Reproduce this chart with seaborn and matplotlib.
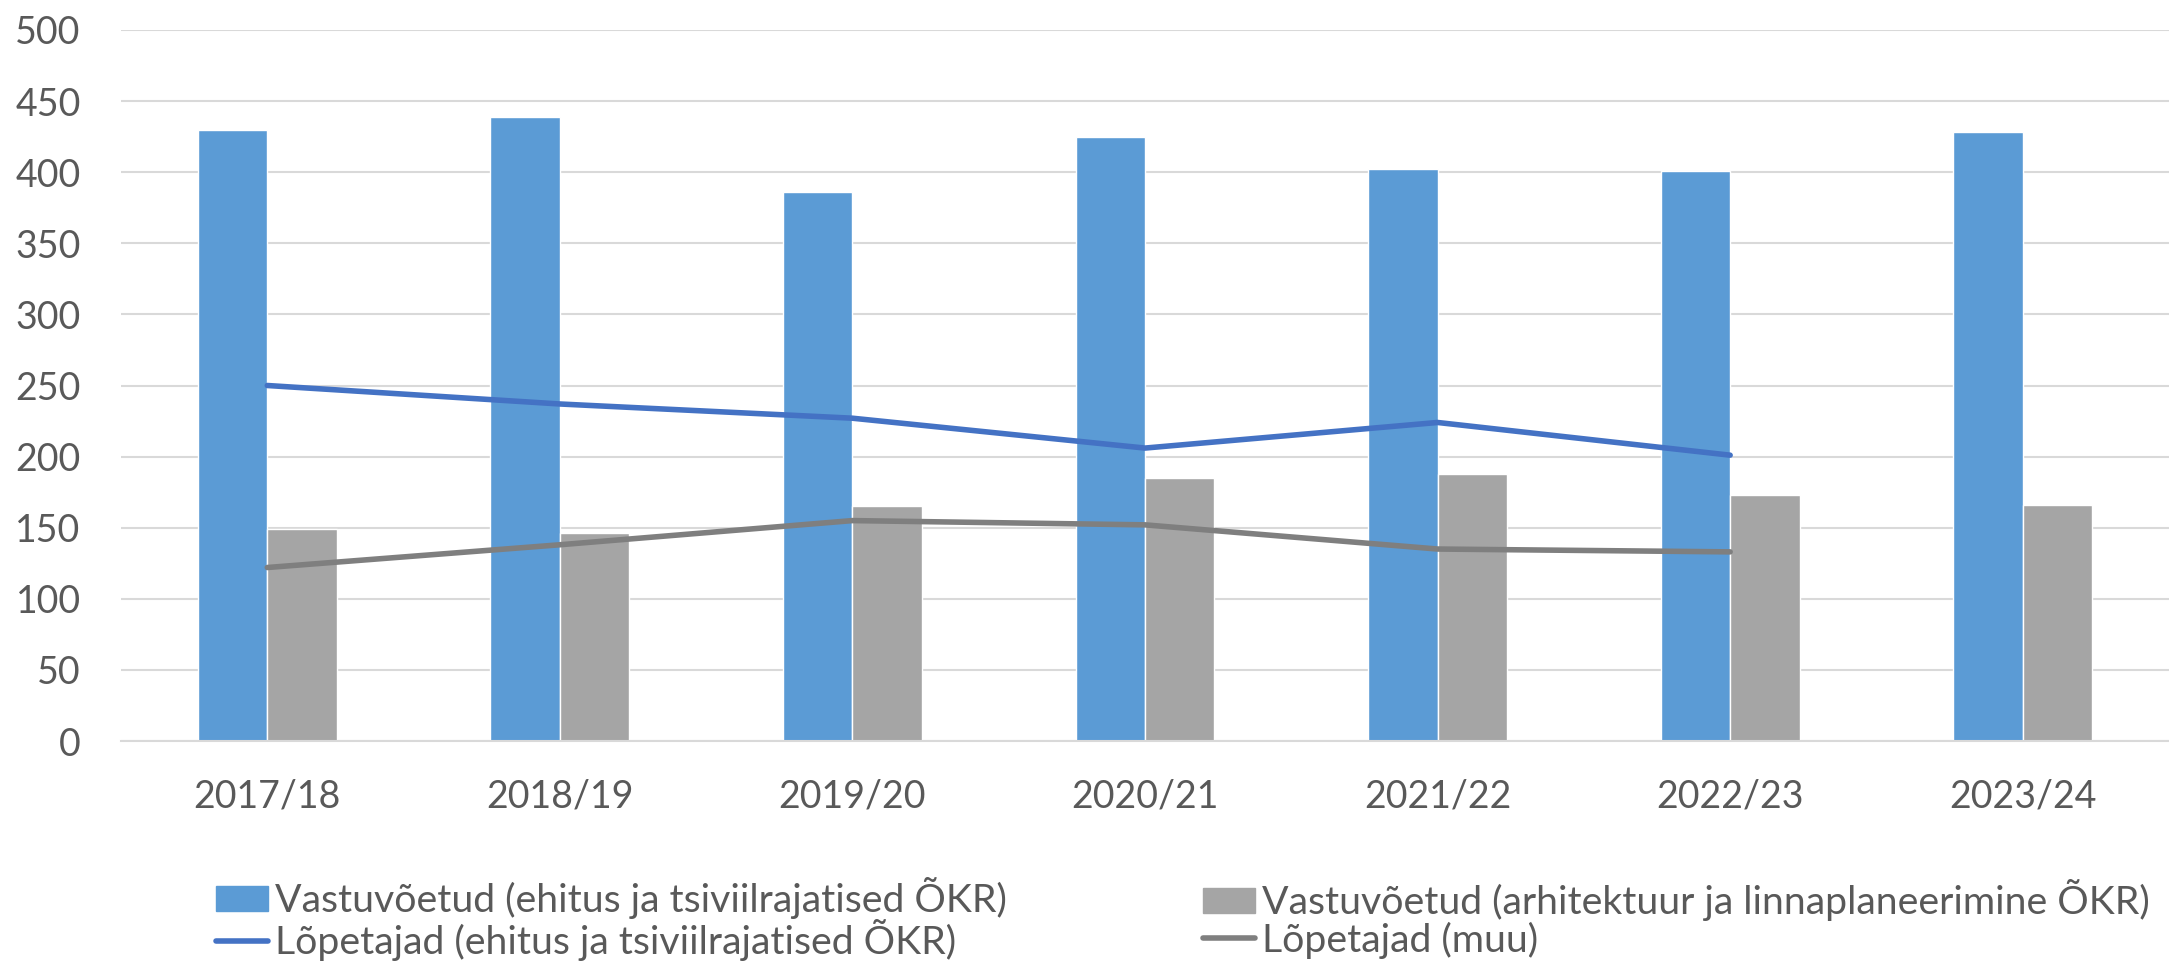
import matplotlib
matplotlib.use("Agg")
import matplotlib.pyplot as plt
from matplotlib.patches import Patch
from matplotlib.lines import Line2D
import seaborn as sns
import numpy as np
import pandas as pd

years = ["2017/18", "2018/19", "2019/20", "2020/21", "2021/22", "2022/23", "2023/24"]
admitted_civil = [430, 439, 386, 425, 402, 401, 428]
admitted_arch = [149, 146, 165, 185, 188, 173, 166]
grad_civil = [250, 237, 227, 206, 224, 201]
grad_other = [122, 138, 155, 152, 135, 133]

lbl_bar1 = "Vastuvõetud (ehitus ja tsiviilrajatised ÕKR)"
lbl_bar2 = "Vastuvõetud (arhitektuur ja linnaplaneerimine ÕKR)"
lbl_line1 = "Lõpetajad (ehitus ja tsiviilrajatised ÕKR)"
lbl_line2 = "Lõpetajad (muu)"

c_bar1, c_bar2 = "#5B9BD5", "#A5A5A5"
c_line1, c_line2 = "#4472C4", "#7F7F7F"
txt = "#595959"
grid = "#D9D9D9"

sns.set_theme(style="white")
plt.rcParams["font.family"] = ["Lato", "DejaVu Sans"]

bars = pd.DataFrame({
    "year": years * 2,
    "value": admitted_civil + admitted_arch,
    "series": [lbl_bar1] * len(years) + [lbl_bar2] * len(years),
})
lines = pd.DataFrame({
    "x": list(range(len(grad_civil))) * 2,
    "value": grad_civil + grad_other,
    "series": [lbl_line1] * len(grad_civil) + [lbl_line2] * len(grad_other),
})

fig = plt.figure(figsize=(21.69, 9.64), dpi=100)
ax = fig.add_axes([121 / 2169, 1 - 741 / 964, 1 - 121 / 2169, (741 - 30) / 964])

sns.barplot(data=bars, x="year", y="value", hue="series", order=years,
            hue_order=[lbl_bar1, lbl_bar2], palette=[c_bar1, c_bar2],
            width=0.475, saturation=1, legend=False, ax=ax)
sns.lineplot(data=lines, x="x", y="value", hue="series",
             hue_order=[lbl_line1, lbl_line2], palette=[c_line1, c_line2],
             linewidth=4, legend=False, ax=ax, solid_capstyle="round")

ax.set_xlim(-0.5, len(years) - 0.5)
ax.set_ylim(0, 500)
ax.set_yticks(np.arange(0, 501, 50))
ax.set_xlabel("")
ax.set_ylabel("")
ax.grid(axis="y", color=grid, linewidth=1.5)
ax.set_axisbelow(True)
for s in ["top", "right", "left"]:
    ax.spines[s].set_visible(False)
ax.spines["bottom"].set_color(grid)
ax.spines["bottom"].set_linewidth(1.5)
ax.tick_params(axis="both", length=0, labelsize=27, labelcolor=txt)
ax.tick_params(axis="x", pad=27)
ax.tick_params(axis="y", pad=29)

leg_kw = dict(frameon=False, fontsize=28.3, labelcolor=txt, handlelength=1.33,
              handleheight=0.61, handletextpad=0.17, labelspacing=0.0,
              borderpad=0, borderaxespad=0, loc="center left")
h1 = [Patch(color=c_bar1), Line2D([], [], color=c_line1, lw=4, solid_capstyle="round")]
h2 = [Patch(color=c_bar2), Line2D([], [], color=c_line2, lw=4, solid_capstyle="round")]
fig.legend(h1, [lbl_bar1, lbl_line1], bbox_to_anchor=(216 / 2169, 1 - 919 / 964), **leg_kw)
fig.legend(h2, [lbl_bar2, lbl_line2], bbox_to_anchor=(1203 / 2169, 1 - 919 / 964), **leg_kw)

fig.savefig("out.png", dpi=100)
